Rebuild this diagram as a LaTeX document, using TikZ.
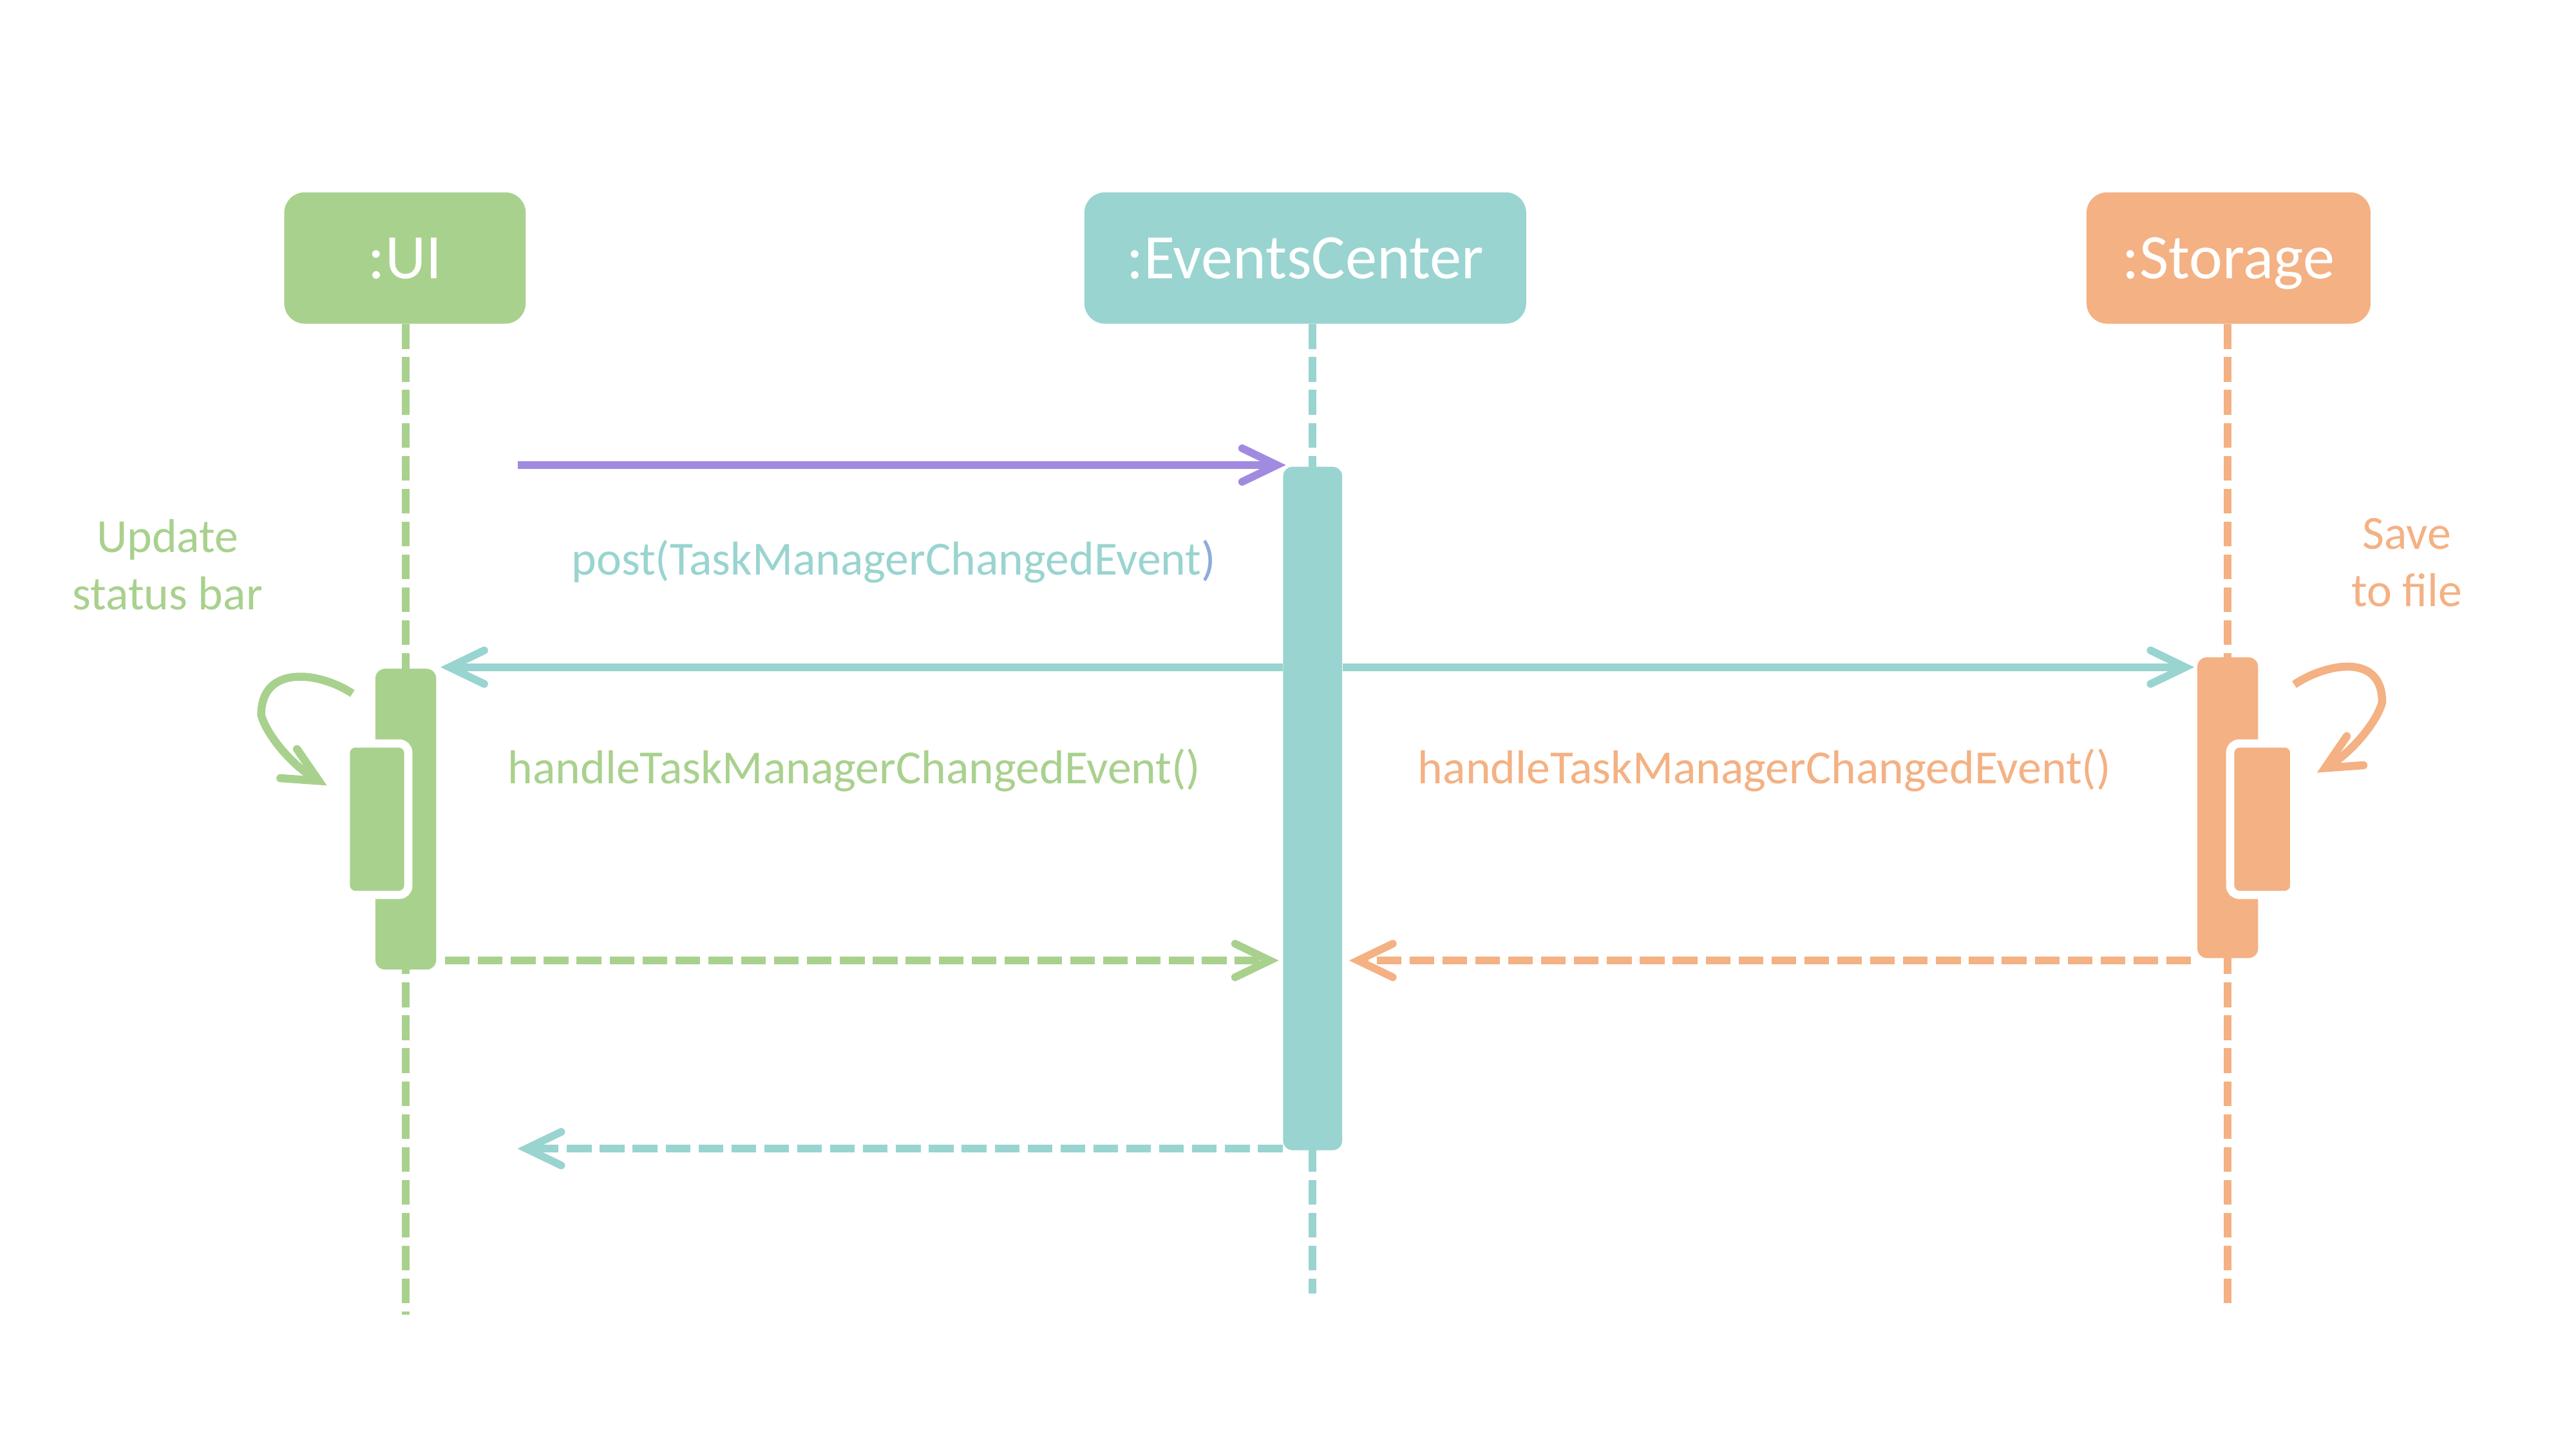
\documentclass[tikz,border=0pt]{standalone}
\usepackage{fontspec}
\setmainfont{Carlito}
\usetikzlibrary{arrows.meta,calc}
\definecolor{uigreen}{HTML}{A9D18E}
\definecolor{ecteal}{HTML}{99D4D0}
\definecolor{storange}{HTML}{F4B183}
\definecolor{postpurple}{HTML}{A18BE0}
\definecolor{parenblue}{HTML}{8FAADC}
\def\pxu{0.2551mm}
\begin{document}
\begin{tikzpicture}[x=\pxu, y=-\pxu,
  barb/.tip={Straight Barb[length=5.4mm, width=5.2mm, line cap=round, line join=miter]},
  objbox/.style={rectangle, rounded corners=3.2mm, minimum height=20.4mm, inner sep=0pt,
    text=white, font=\fontsize{28pt}{34pt}\selectfont, text height=18pt, text depth=0pt},
  actbar/.style={rectangle, rounded corners=1.5mm, inner sep=0pt},
  nestbar/.style={rectangle, rounded corners=1.4mm, inner sep=0pt, draw=white, line width=1.28mm},
  lifeline/.style={line width=1.2mm, dash pattern=on 3.83mm off 1.28mm},
  msg/.style={line width=1.2mm, -barb},
  dmsg/.style={line width=1.2mm, dash pattern=on 3.83mm off 1.28mm, -barb},
  selfmsg/.style={line width=1.25mm, -barb},
  lbl/.style={inner sep=0pt, font=\fontsize{21pt}{25.3pt}\selectfont}
]
\useasboundingbox (0,0) rectangle (1568,882);

% objects
\node[objbox, fill=uigreen, minimum width=37.5mm] (ui) at (246.5,157) {:UI};
\node[objbox, fill=ecteal, minimum width=68.6mm] (ec) at (794.5,157) {:EventsCenter};
\node[objbox, fill=storange, minimum width=44.1mm] (st) at (1356.5,157) {:Storage};

% lifeline ends
\coordinate (uiend) at (247,800);
\coordinate (ecend) at (799,787);
\coordinate (stend) at (1356,793);

\draw[lifeline, draw=uigreen] (ui.south -| uiend) -- (uiend);
\draw[lifeline, draw=ecteal] (ec.south -| ecend) -- (ecend);
\draw[lifeline, draw=storange] (st.south -| stend) -- (stend);

% activation bars
\node[actbar, fill=ecteal, minimum width=9.18mm, minimum height=106.1mm] (ecbar) at (799,492) {};
\node[actbar, fill=uigreen, minimum width=9.44mm, minimum height=46.7mm] (uibar) at (247,498.5) {};
\node[actbar, fill=storange, minimum width=9.44mm, minimum height=46.7mm] (stbar) at (1356,491.5) {};

% nested bars
\node[nestbar, fill=uigreen, minimum width=9.69mm, minimum height=23.5mm] (uinest) at (229.5,498.5) {};
\node[nestbar, fill=storange, minimum width=9.95mm, minimum height=23.5mm] (stnest) at (1377,498.5) {};

% messages
\coordinate (pstart) at (315,283);
\draw[msg, draw=postpurple] (pstart) -- ([xshift=0.5mm]ecbar.north west |- pstart);

\draw[msg, draw=ecteal] (ecbar.west |- 0,406) -- ([xshift=0.6mm]uibar.east |- 0,406);
\draw[msg, draw=ecteal] (ecbar.east |- 0,406) -- ([xshift=-0.4mm]stbar.west |- 0,406);

\draw[dmsg, draw=uigreen, shorten <=1.3mm, shorten >=0.6mm] (uibar.east |- 0,584.5) -- (ecbar.west |- 0,584.5);
\draw[dmsg, draw=storange, shorten <=0.9mm, shorten >=1.0mm] (stbar.west |- 0,584.5) -- (ecbar.east |- 0,584.5);

\coordinate (retend) at (315,699);
\draw[dmsg, draw=ecteal] (ecbar.west |- retend) -- (retend);

% self calls
\coordinate (uiself0) at (214.5,422);
\coordinate (uiself1) at (159,435);
\coordinate (uiself2) at (199,478);
\draw[selfmsg, draw=uigreen] (uiself0) .. controls (193,408) and (159,405) .. (uiself1)
   .. controls (162,447) and (178,466) .. (uiself2);

\coordinate (stself0) at (1396.5,416.6);
\coordinate (stself1) at (1450,427.3);
\coordinate (stself2) at (1410.3,470.2);
\draw[selfmsg, draw=storange] (stself0) .. controls (1414,404.5) and (1450,396) .. (stself1)
   .. controls (1447,439.3) and (1431,458.3) .. (stself2);

% labels
\node[lbl, text=uigreen, align=center] (updlbl) at (102,343.5) {Update\\status bar};
\node[lbl, text=storange, align=center] (savelbl) at (1465,342.5) {Save\\to file};
\node[lbl, anchor=base] (postlbl) at (544,350) {\textcolor{ecteal}{post(TaskManagerChangedEvent}\textcolor{parenblue}{)}};
\node[lbl, anchor=base, text=uigreen] (uihandle) at (520,477) {handleTaskManagerChangedEvent()};
\node[lbl, anchor=base, text=storange] (sthandle) at (1074,477) {handleTaskManagerChangedEvent()};
\end{tikzpicture}
\end{document}
